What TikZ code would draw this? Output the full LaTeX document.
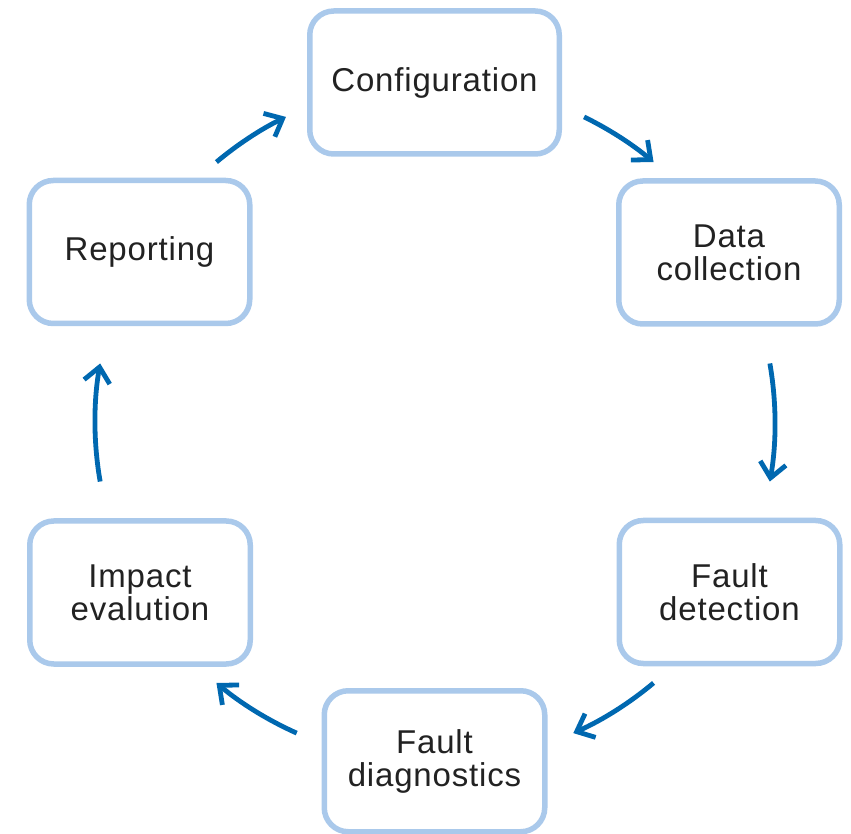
\documentclass[tikz,border=0pt]{standalone}
\usepackage{fontspec}
\setmainfont{Liberation Sans}[LetterSpace=2.5]
\usetikzlibrary{arrows.meta}
\definecolor{boxblue}{RGB}{170,201,235}
\definecolor{arrblue}{RGB}{0,104,176}
\definecolor{txt}{RGB}{34,34,34}
\begin{document}
\begin{tikzpicture}[x=1pt,y=1pt,
  stage/.style={draw=boxblue, line width=5.5pt, rounded corners=24pt,
    minimum width=220.5pt, minimum height=143pt, inner sep=0pt,
    align=center, text=txt, font=\fontsize{33}{33}\selectfont, fill=white},
  cyc/.style={draw=arrblue, line width=4.8pt,
    -{Straight Barb[length=15pt,width=26pt]}, looseness=0.85}
]
\useasboundingbox (0,0) rectangle (851,833);
% stages
\node[stage, minimum width=249.5pt] (conf) at (434.5,750.5) {Configuration};
\node[stage] (data) at (729,580.5) {Data\\collection};
\node[stage] (fdet) at (729.5,241) {Fault\\detection};
\node[stage, minimum height=141pt] (fdiag) at (434.5,71.75) {Fault\\diagnostics};
\node[stage] (imp) at (140,240.5) {Impact\\evalution};
\node[stage] (rep) at (139.5,581) {Reporting};
% cycle arrow ends (circle centre and radius)
\coordinate (c) at (435,410.5);
\path (c) ++(130:340) coordinate (t1) (c) ++(116:340) coordinate (h1);
\path (c) ++(64:340) coordinate (t2) (c) ++(50:340) coordinate (h2);
\path (c) ++(10:340) coordinate (t3) (c) ++(-10:340) coordinate (h3);
\path (c) ++(-50:340) coordinate (t4) (c) ++(-66:340) coordinate (h4);
\path (c) ++(-114:340) coordinate (t5) (c) ++(-130:340) coordinate (h5);
\path (c) ++(190:340) coordinate (t6) (c) ++(170:340) coordinate (h6);
% arrows
\draw[cyc] (t1) to[bend left=7] (h1);
\draw[cyc] (t2) to[bend left=7] (h2);
\draw[cyc] (t3) to[bend left=10] (h3);
\draw[cyc] (t4) to[bend left=8] (h4);
\draw[cyc] (t5) to[bend left=8] (h5);
\draw[cyc] (t6) to[bend left=10] (h6);
\end{tikzpicture}
\end{document}
